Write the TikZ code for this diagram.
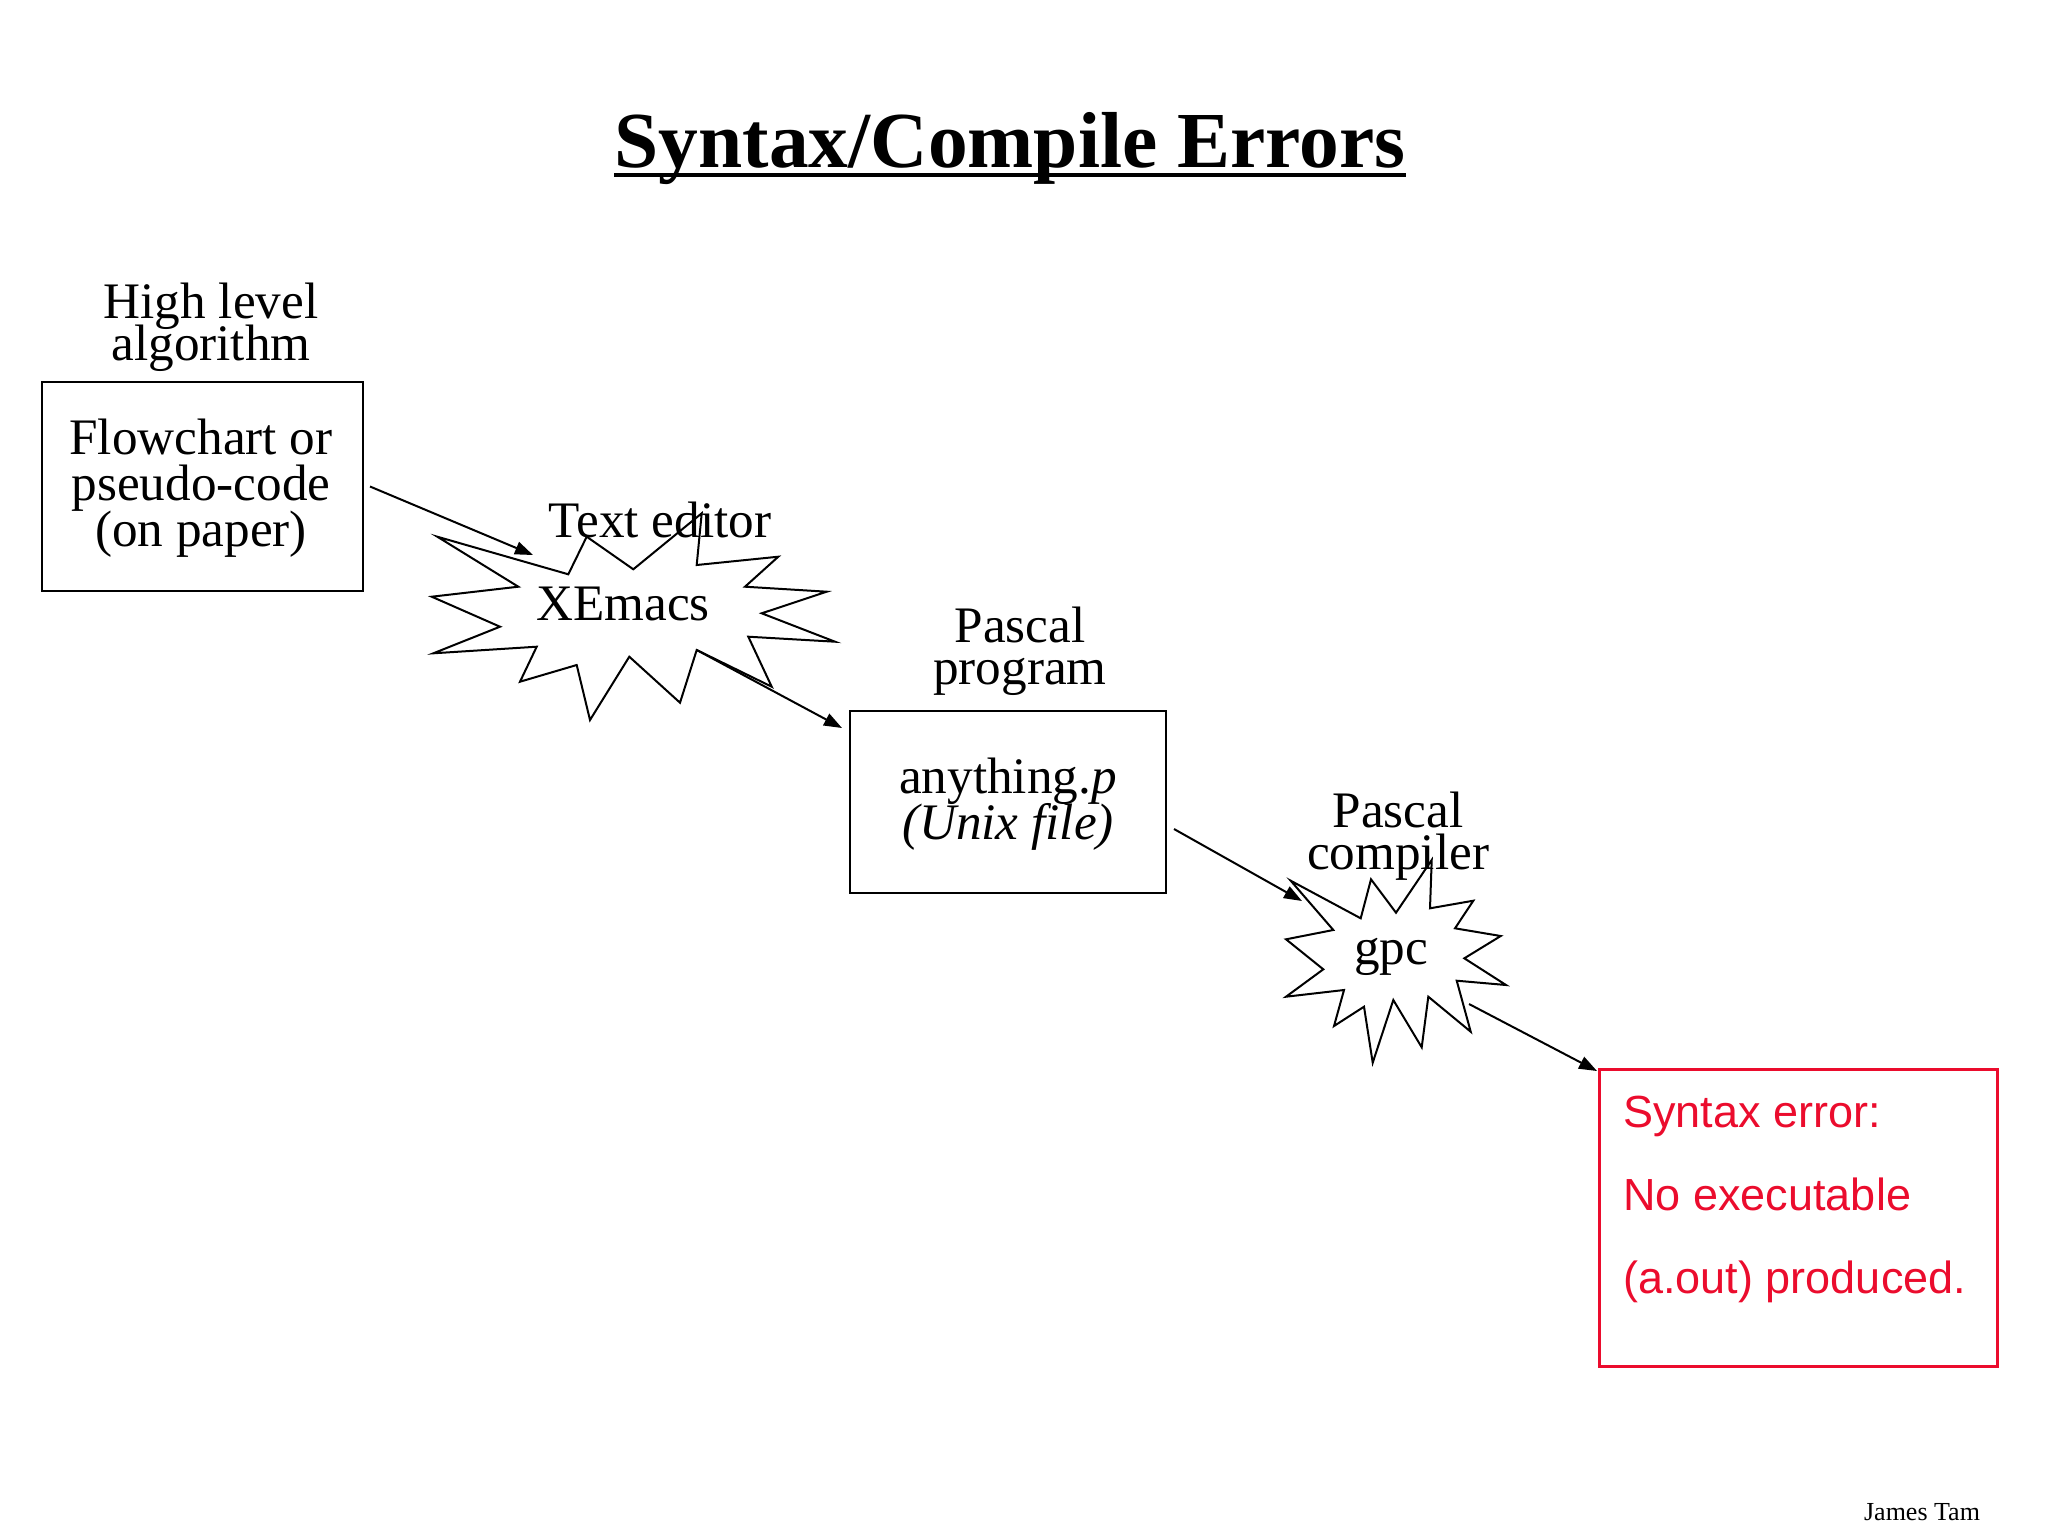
\documentclass[tikz,border=0pt]{standalone}
\usepackage{fontspec}
\setmainfont{Liberation Serif}
\newfontfamily\arialfam{Liberation Sans}
\usetikzlibrary{arrows.meta,calc}
\definecolor{errred}{RGB}{235,12,45}
\newcommand\stackc[1]{\vtop{\lineskiplimit=-1000pt\lineskip=0pt\halign{\hfil##\hfil\cr#1\crcr}}}
\newcommand\stackl[1]{\vtop{\lineskiplimit=-1000pt\lineskip=0pt\halign{##\hfil\cr#1\crcr}}}
\begin{document}
\begin{tikzpicture}[x=0.5pt,y=-0.5pt,
  txt/.style={inner sep=0pt, anchor=base, font=\fontsize{25.6}{21}\selectfont},
  boxtxt/.style={inner sep=0pt, anchor=base, font=\fontsize{25.6}{23}\selectfont},
  box/.style={draw, line width=1pt, inner sep=0pt, outer sep=0pt},
  errbox/.style={draw=errred, line width=1.5pt, inner sep=0pt, outer sep=0pt},
  burst/.style={draw, line width=1pt, line join=miter},
  arr/.style={line width=1pt, -{Triangle[length=9pt,width=6.5pt]}}]
\useasboundingbox (0,0) rectangle (2048,1536);

% title
\node[anchor=base, inner sep=0pt, font=\fontsize{39.7}{40}\selectfont\bfseries] (title) at (1010,167) {Syntax/Compile Errors};
\draw[line width=1.75pt] ([yshift=-4pt]title.base west) -- ([yshift=-4pt]title.base east);

% first box
\node[txt] (hl) at (211,318) {\stackc{High level\cr algorithm}};
\node[box, minimum width=160.5pt, minimum height=104.5pt] (b1) at (202.5,486.5) {};
\node[boxtxt] (b1t) at (201,454) {\stackc{Flowchart or\cr pseudo-code\cr (on paper)}};

% XEmacs burst
\node[txt] (te) at (660,537) {Text editor};
\draw[burst] (437.3,536.7) -- (568.3,574.3) -- (586.7,536.7) -- (633.3,569.3)
  -- (701.7,513.3) -- (696.7,565) -- (778.3,556.7) -- (745,586.7)
  -- (826.7,591.7) -- (761.7,613.3) -- (835,641.7) -- (748.3,636.7)
  -- (771.7,686.7) -- (696.7,650) -- (680,702.7) -- (629.3,656.7)
  -- (590,720) -- (576.7,665) -- (520,681.7) -- (536.7,646.7)
  -- (433.3,653.3) -- (500,626.7) -- (431.7,596.7) -- (518.3,586.7) -- cycle;
\node[txt] (xe) at (623,620) {XEmacs};
\coordinate (xin) at (533,555);
\coordinate (xout) at (696.7,650);

% second box
\node[txt] (pp) at (1020,642.5) {\stackc{Pascal\cr program}};
\node[box, minimum width=158pt, minimum height=91pt] (b2) at (1008,802) {};
\node[boxtxt] (b2t) at (1008,793) {\stackc{anything.\textit{p}\cr \textit{(Unix file)}}};

% gpc burst
\node[txt] (pc) at (1398,827) {\stackc{Pascal\cr compiler}};
\draw[burst] (1290.7,880.7) -- (1360.7,918.3) -- (1371,879.3) -- (1396,912.7)
  -- (1431.7,860) -- (1430,908.3) -- (1473.3,900.7) -- (1455,928.3)
  -- (1500.7,936) -- (1464.3,958.3) -- (1506,985) -- (1456.7,980.7)
  -- (1470.7,1031.7) -- (1428.3,996.7) -- (1421.7,1047.3) -- (1393.3,1000)
  -- (1372.7,1062.7) -- (1364,1006.7) -- (1334,1026) -- (1344,990)
  -- (1286,996.7) -- (1323.3,969.3) -- (1286,939.3) -- (1333.3,930) -- cycle;
\node[txt] (gpc) at (1391,964) {gpc};
\coordinate (gin) at (1302,901);
\coordinate (gout) at (1469,1004);

% error box
\node[errbox, minimum width=199pt, minimum height=148.5pt] (eb) at (1798,1217.5) {};
\node[inner sep=0pt, anchor=base west, text=errred, font=\arialfam\fontsize{22.5}{41.5}\selectfont] (ebt) at (1623,1127)
  {\stackl{Syntax error:\cr No executable\cr (a.out) produced.}};

% connectors
\draw[arr] ([xshift=3.5pt]b1.east) -- (xin);
\draw[arr] (xout) -- ([xshift=-4pt,yshift=-8.5pt]b2.north west);
\draw[arr] ([xshift=4pt,yshift=-13.5pt]b2.east) -- (gin);
\draw[arr] (gout) -- ([xshift=-1pt,yshift=-1pt]eb.north west);

% footer
\node[anchor=base, inner sep=0pt, font=\fontsize{13}{14}\selectfont] (author) at (1922,1520) {James Tam};
\end{tikzpicture}
\end{document}
